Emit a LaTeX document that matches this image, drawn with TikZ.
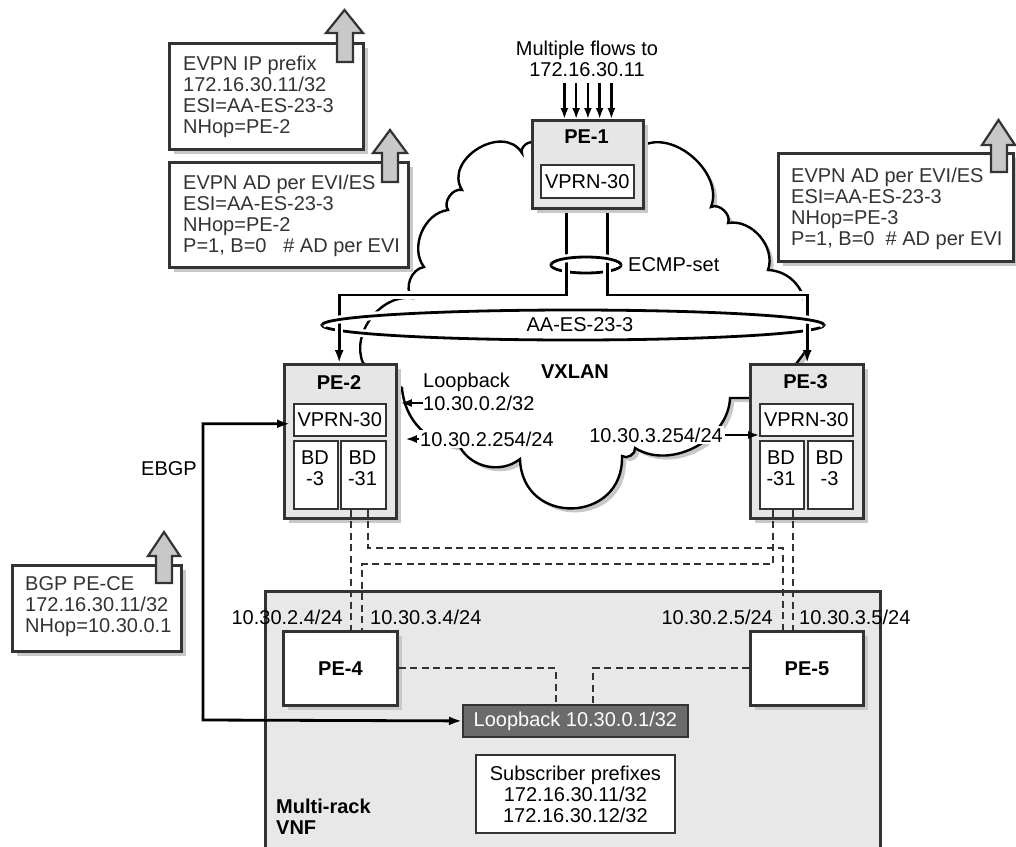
\documentclass[tikz,border=0pt]{standalone}
\usepackage{fontspec}
\setmainfont{Liberation Sans}
\usetikzlibrary{arrows.meta,calc,shadows}
\definecolor{dk}{HTML}{333333}
\definecolor{pegray}{HTML}{E6E6E6}
\definecolor{vnfgray}{HTML}{E8E8E8}
\definecolor{arrgray}{HTML}{C8C8C8}
\definecolor{lbgray}{HTML}{6B6B6B}
\definecolor{shd}{HTML}{C8C8C8}
\newcommand\mycloudpath{(642,146) to[bend left=70] (711,207) to[bend left=70] (728,223) to[bend left=60] (768,270) to[bend left=45] (805,310) -- (805,352) -- (790,372) -- (749,398) -- (730,398) to[bend left=60] (635,448) to[bend left=70] (622,456) to[bend left=90,looseness=1.7] (520,459) to[bend left=50] (460,447) to[bend left=40] (402,388) -- (363,363) to[bend left=60] (412,298) to[bend left=60] (424,267) to[bend left=60] (448,210) to[bend left=70] (462,190) to[bend left=90,looseness=1.3] (522,153) to[bend left=70] (534,143) -- cycle}
\begin{document}
\begin{tikzpicture}[x=1pt,y=-1pt,
  txt/.style={font=\fontsize{20}{21}\selectfont, inner sep=0pt},
  btxt/.style={font=\fontsize{20}{21}\selectfont\bfseries, inner sep=0pt},
  ctext/.style={txt, text=dk, align=left, anchor=west},
  shadowed/.style={drop shadow={shadow xshift=5pt, shadow yshift=-5pt, fill=shd, opacity=1}},
  callout/.style={draw=dk, line width=2.8pt, fill=white, anchor=north west, inner sep=0pt, shadowed},
  pebox/.style={draw=dk, line width=2.8pt, fill=pegray, anchor=north west, inner sep=0pt, shadowed},
  inbox/.style={draw=dk, line width=1.5pt, fill=white, anchor=north west, inner sep=0pt},
  upblk/.style={draw=dk, line width=2.2pt, fill=arrgray},
  conn/.style={line width=2.8pt, draw=black},
  halo/.style={preaction={draw=white, line width=8pt}},
  dsh/.style={line width=2pt, draw=dk, dash pattern=on 7pt off 4.5pt},
  arr/.style={-{Latex[length=13pt,width=9pt]}},
  thinarr/.style={line width=1.8pt, draw=black, -{Latex[length=11pt,width=8pt]}},
]
\useasboundingbox (0,0) rectangle (1016,846);
\fill[white] (0,0) rectangle (1016,846);

% Multi-rack VNF area
\node[draw=dk, line width=2.8pt, fill=vnfgray, anchor=north west, inner sep=0pt, minimum width=615, minimum height=290] (vnf) at (264,590) {};
\node[btxt, align=left, anchor=west] (vnflbl) at (276,817) {Multi-rack\\VNF};

% cloud
\fill[shd, shift={(4,4)}] \mycloudpath;
\draw[line width=2.4pt, fill=white] \mycloudpath;

% callouts
\node[callout, minimum width=194, minimum height=106] (cb1) at (168,42) {};
\node[ctext] (ct1) at (183,97) {EVPN IP prefix\\172.16.30.11/32\\ESI=AA-ES-23-3\\NHop=PE-2};
\draw[upblk] (337,62) -- (337,33) -- (326,33) -- (344.5,10) -- (363,33) -- (353,33) -- (353,62) -- cycle;

\node[callout, minimum width=239, minimum height=105] (cb2) at (168,161) {};
\node[ctext] (ct2) at (183,216) {EVPN AD per EVI/ES\\ESI=AA-ES-23-3\\NHop=PE-2\\P=1, B=0 \ \ \# AD per EVI};
\draw[upblk] (382,182) -- (382,153) -- (373,153) -- (390,130) -- (407,153) -- (398,153) -- (398,182) -- cycle;

\node[callout, minimum width=235, minimum height=108] (cb3) at (777,152) {};
\node[ctext] (ct3) at (791,209) {EVPN AD per EVI/ES\\ESI=AA-ES-23-3\\NHop=PE-3\\P=1, B=0 \ \# AD per EVI};
\draw[upblk] (991,172) -- (991,145) -- (982,145) -- (998.5,120) -- (1015,145) -- (1007,145) -- (1007,172) -- cycle;

\node[callout, minimum width=169, minimum height=86] (cb4) at (11,564) {};
\node[ctext] (ct4) at (25,607) {BGP PE-CE\\172.16.30.11/32\\NHop=10.30.0.1};
\draw[upblk] (156,583) -- (156,556) -- (148,556) -- (164,532) -- (180,556) -- (172,556) -- (172,583) -- cycle;

% PE reference coordinates for connectors
\path (531,119) node[anchor=north west, inner sep=0pt, minimum width=111, minimum height=88] (pe1) {};
\path (540,164) node[anchor=north west, inner sep=0pt, minimum width=93, minimum height=33] (pe1v) {};
\path (283,363) node[anchor=north west, inner sep=0pt, minimum width=112, minimum height=154] (pe2) {};
\path (749,363) node[anchor=north west, inner sep=0pt, minimum width=113, minimum height=154] (pe3) {};

% ellipses and ECMP lines
\draw[conn, halo] (573,325) ellipse [x radius=251, y radius=15];
\draw[conn, halo] (586,265) ellipse [x radius=35, y radius=8];
\draw[conn, halo, arr] ($(pe1v.south)+(-20.5,0)$) |- ($(pe2.north)+(0,-68)$) -- (pe2.north);
\draw[conn, halo, arr] ($(pe1v.south)+(20.5,0)$) |- ($(pe3.north)+(1.5,-68)$) -- ($(pe3.north)+(1.5,0)$);
\draw[conn, halo] (322,325) arc[start angle=180, end angle=360, x radius=251, y radius=15];
\draw[conn, halo] (551,265) arc[start angle=180, end angle=360, x radius=35, y radius=8];
\node[txt] (aalbl) at (580,325) {AA-ES-23-3};
\node[txt, anchor=west] (ecmp) at (628,265) {ECMP-set};

% PE boxes drawn on top
\node[pebox, minimum width=111, minimum height=88] (pe1b) at (531,119) {};
\node[btxt] (pe1t) at (586.5,137) {PE-1};
\node[inbox, minimum width=93, minimum height=33] (pe1vb) at (540,164) {};
\node[txt] (pe1vt) at (pe1vb.center) {VPRN-30};

\node[pebox, minimum width=112, minimum height=154] (pe2b) at (283,363) {};
\node[btxt] (pe2t) at (339,383) {PE-2};
\node[inbox, minimum width=92, minimum height=32] (pe2v) at (293,403) {};
\node[txt] (pe2vt) at (pe2v.center) {VPRN-30};
\node[inbox, minimum width=44, minimum height=68] (pe2b3) at (293,440) {};
\node[txt, align=center] (pe2b3t) at (315,468) {BD\\-3};
\node[inbox, minimum width=45, minimum height=68] (pe2b31) at (340,440) {};
\node[txt, align=center] (pe2b31t) at (362.5,468) {BD\\-31};

\node[pebox, minimum width=113, minimum height=154] (pe3b) at (749,363) {};
\node[btxt] (pe3t) at (805.5,382) {PE-3};
\node[inbox, minimum width=93, minimum height=32] (pe3v) at (759,403) {};
\node[txt] (pe3vt) at (pe3v.center) {VPRN-30};
\node[inbox, minimum width=44, minimum height=68] (pe3b31) at (759,440) {};
\node[txt, align=center] (pe3b31t) at (781,468) {BD\\-31};
\node[inbox, minimum width=45, minimum height=68] (pe3b3) at (807,440) {};
\node[txt, align=center] (pe3b3t) at (829.5,468) {BD\\-3};

% multiple flows
\node[txt, align=center] (mf) at (587,58.5) {Multiple flows to\\172.16.30.11};
\foreach \i in {0,...,4}
  \draw[line width=2.4pt, -{Latex[length=11pt,width=8pt]}] ($(pe1b.north)+(-23.5+11.75*\i,-36)$) -- ($(pe1b.north)+(-23.5+11.75*\i,0)$);

% VXLAN labels
\node[btxt] (vx) at (575,372) {VXLAN};
\node[txt, anchor=west] (lbk1) at (423,382) {Loopback};
\node[txt, anchor=west] (lbk2) at (423,403) {10.30.0.2/32};
\draw[thinarr, shorten >=3pt] (lbk2.west) -- (lbk2.west -| pe2b.east);
\node[txt, anchor=west, fill=white, inner sep=1.5pt] (n2254) at (418.5,439) {10.30.2.254/24};
\draw[thinarr, shorten >=8pt] (n2254.west) -- (n2254.west -| pe2b.east);
\node[txt, anchor=east, fill=white, inner sep=1.5pt] (n3254) at (724.5,435) {10.30.3.254/24};
\draw[thinarr] (n3254.east) -- (n3254.east -| pe3v.west);

% PE-4, PE-5, loopback, subscriber
\node[pebox, fill=white, minimum width=114, minimum height=74] (pe4) at (282,630) {};
\node[btxt] (pe4t) at (pe4.center) {PE-4};
\node[pebox, fill=white, minimum width=113, minimum height=74] (pe5) at (749,630) {};
\node[btxt] (pe5t) at (pe5.center) {PE-5};
\node[draw=dk, line width=1.8pt, fill=lbgray, text=white, txt, anchor=north west, minimum width=225, minimum height=32] (lb) at (462,704) {Loopback 10.30.0.1/32};
\node[draw=dk, line width=1.8pt, fill=white, txt, align=center, anchor=north west, minimum width=199, minimum height=78] (sub) at (475,754) {Subscriber prefixes\\172.16.30.11/32\\172.16.30.12/32};

% dashed links
\coordinate (ha) at (0,548);
\coordinate (hb) at (0,564);
\draw[dsh] ([xshift=11]pe2b31.south west) -- ([xshift=69]pe4.north west);
\draw[dsh] ([xshift=28]pe2b31.south west) |- ($(ha)+(783,0)$) -- ([xshift=34]pe5.north west);
\draw[dsh] ([xshift=14]pe3b31.south west) |- ($(hb)+(362,0)$) -- ([xshift=80]pe4.north west);
\draw[dsh] ([xshift=34]pe3b31.south west) -- ([xshift=44]pe5.north west);
\draw[dsh] (pe4.east) -| ([xshift=94]lb.north west);
\draw[dsh] (pe5.west) -| ([xshift=131]lb.north west);

\node[txt, anchor=east] (a24) at (343,617) {10.30.2.4/24};
\node[txt, anchor=west] (a34) at (370,617) {10.30.3.4/24};
\node[txt, anchor=east] (a25) at (773,617) {10.30.2.5/24};
\node[txt, anchor=west] (a35) at (799,617) {10.30.3.5/24};

% EBGP
\coordinate (eb) at (203,720);
\draw[conn, {Latex[length=13pt,width=9pt]}-{Latex[length=13pt,width=9pt]}] ($(pe2v.west)+(-3,4)$) -| (eb) -- (lb.west);
\node[txt, anchor=east] (ebgp) at (197,469) {EBGP};
\end{tikzpicture}
\end{document}
